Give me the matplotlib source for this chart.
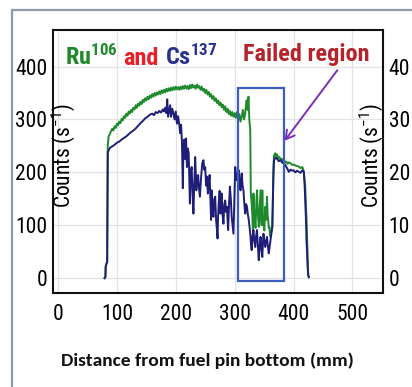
import matplotlib
matplotlib.use("Agg")
import matplotlib.pyplot as plt
from matplotlib.patches import Rectangle, FancyArrowPatch
from matplotlib import font_manager as fm

# ---------------- data ----------------
ru_x = [79, 80.5, 81, 82.5, 83.5, 84.5, 86, 88, 90, 92, 94, 96, 98, 100, 102, 104, 106, 108, 110,
        112, 114, 116, 118, 120, 122, 124, 126, 128, 130, 132, 134, 136, 138, 140, 142, 144, 146,
        148, 150, 152, 154, 156, 158, 160, 162, 164, 166, 168, 170, 172, 174, 176, 178, 180, 182,
        184, 186, 188, 190, 192, 194, 196, 198, 200, 202, 204, 206, 208, 210, 212, 214, 216, 218,
        220, 222, 224, 226, 228, 230, 232, 234, 236, 238, 240, 242, 244, 246, 248, 250, 252, 254,
        256, 258, 260, 262, 264, 266, 268, 270, 272, 274, 276, 278, 280, 282, 284, 286, 288, 290,
        292, 294, 296, 298, 300, 302, 304, 306, 308, 310, 312, 314, 316, 318, 320, 322, 323.5, 325,
        326.5, 327.5, 329, 330, 331, 332, 333, 334, 335.5, 337, 338, 339.5, 341, 342.5, 344, 345,
        346, 347, 348, 349, 350.5, 352, 353.5, 355, 356, 357, 358, 359, 360, 361, 362.5, 364, 365,
        366, 367, 369, 371, 372, 374, 376, 378, 380, 382, 384, 386, 388, 390, 392, 395, 398, 400,
        403, 406, 409, 412, 415, 417, 418.5, 420, 421, 422, 423, 424, 425, 426]
ru_y = [0, 2, 22, 28, 30, 250, 268, 272, 278, 282, 279, 287, 284, 292, 289, 296, 293, 301, 298,
        306, 303, 311, 307, 315, 311, 318, 314, 322, 319, 327, 322, 330, 326, 333, 329, 337, 333,
        340, 336, 343, 338, 345, 341, 348, 343, 350, 345, 351, 347, 353, 348, 355, 350, 356, 351,
        358, 353, 359, 354, 360, 355, 361, 356, 362, 357, 361, 356, 362, 357, 363, 358, 364, 358,
        363, 357, 365, 359, 366, 360, 364, 358, 366, 360, 363, 356, 362, 354, 358, 350, 356, 347,
        352, 343, 348, 339, 344, 335, 340, 331, 336, 327, 332, 323, 328, 318, 325, 314, 320, 310,
        316, 307, 314, 305, 312, 303, 314, 299, 310, 296, 305, 318, 300, 312, 336, 318, 343, 299,
        280, 160, 141, 120, 91, 160, 130, 110, 95, 147, 166, 120, 97, 130, 166, 110,
        100, 166, 120, 103, 90, 135, 110, 154, 120, 110, 95, 97, 85, 78, 90, 97, 160,
        215, 232, 236, 228, 234, 227, 229, 224, 226, 221, 223, 219, 220, 216, 219, 217, 214, 215,
        213, 212, 211, 208, 210, 204, 190, 172, 140, 115, 78, 40, 6, 2]

cs_x = [79, 80.5, 81, 82.5, 83.5, 84.5, 88, 92, 96, 100, 104, 108, 112, 116, 120, 124, 128, 132,
        136, 140, 144, 148, 152, 156, 160, 163, 166, 169, 172, 175, 178, 180, 182, 184, 185.5, 187,
        189, 190.5, 192, 194, 196, 198, 200, 202, 204, 206, 207.5, 209, 210.5, 212, 213, 214.5,
        216, 217.5, 219, 220.5, 222, 223, 224, 225.5, 227, 228.5, 230, 231.5, 233, 234, 235,
        236.5, 238, 239.5, 241, 243, 245, 247, 248.5, 250, 251.5, 253, 254.5, 256, 257.5, 259,
        260, 261, 262.5, 264, 265.5, 267, 268.5, 270, 271, 272, 273, 274.5, 276, 277, 278, 279.5,
        281, 282.5, 284, 285.5, 287, 288, 289, 290.5, 292, 293.5, 295, 296.5, 298, 299.5, 301,
        302.5, 304, 305.5, 307, 308.5, 310, 311, 312, 313.5, 315, 316.5, 318, 319.5, 321, 322.5,
        324, 325.5, 327, 328, 329, 330.5, 332, 333.5, 335, 336.5, 338, 339.5, 341, 342.5, 344,
        345.5, 347, 348, 349, 350.5, 352, 353.5, 355, 356.5, 358, 359.5, 361, 362.5, 364, 365,
        366, 367, 369, 372, 375, 378, 381, 384, 386, 389, 392, 395, 398, 400, 403, 406, 409, 412,
        415, 417.5, 419, 420.5, 421.5, 422, 423, 424, 425, 426]
cs_y = [0, 2, 22, 28, 30, 238, 246, 249, 252, 256, 258, 262, 265, 268, 272, 276, 279, 283,
        288, 293, 297, 302, 305, 309, 311, 308, 314, 312, 316, 313, 319, 315, 322, 312, 338, 305,
        318, 327, 305, 320, 312, 300, 315, 292, 306, 290, 274, 290, 258, 170, 240, 262,
        225, 264, 210, 245, 236, 185, 141, 200, 210, 160, 122, 180, 229, 200, 166,
        190, 195, 170, 154, 190, 217, 223, 205, 210, 175, 192, 160, 179, 195, 141,
        110, 166, 130, 116, 150, 154, 110, 91, 75, 120, 141, 165, 122, 135, 160, 120,
        103, 140, 147, 125, 135, 110, 91, 140, 173, 150, 116, 100, 84, 150, 210,
        190, 185, 200, 204, 180, 166, 185, 198, 175, 166, 140, 122, 140, 135, 120,
        110, 95, 78, 60, 53, 80, 91, 70, 59, 80, 91, 60, 34, 60, 78,
        55, 40, 65, 84, 70, 59, 70, 78, 60, 47, 60, 72, 85, 97, 150,
        198, 223, 227, 226, 221, 223, 218, 217, 214, 208, 201, 205, 203, 204, 200, 203, 201, 199,
        204, 201, 173, 130, 100, 72, 50, 20, 5, 2]

x_ticks = [0, 100, 200, 300, 400, 500]
y_ticks = [0, 100, 200, 300, 400]
y2_ticks = [0, 10, 20, 30, 40]

# ---------------- fonts ----------------
names = {f.name for f in fm.fontManager.ttflist}


def pick(*cands):
    out = [c for c in cands if c in names]
    return out + ['DejaVu Sans']


cond = pick('Roboto Condensed', 'PT Sans Narrow', 'Liberation Sans')
condb = pick('Roboto Condensed', 'PT Sans Narrow', 'Liberation Sans')
calib = pick('Carlito', 'Lato')
plt.rcParams['mathtext.default'] = 'regular'

W, H = 412, 387
fig = plt.figure(figsize=(W / 100, H / 100), dpi=100)
fig.patch.set_facecolor('white')


def fx(px):
    return px / W


def fy(py):
    return 1 - py / H


# outer frame
fig.patches.append(Rectangle((fx(12), fy(420)), 1.2, fy(10) - fy(420),
                             transform=fig.transFigure, fill=False,
                             edgecolor='#8E9BAA', linewidth=1.6))

ax = fig.add_axes([fx(53), fy(293), fx(383) - fx(53), fy(30) - fy(293)])
ax.set_xlim(-8.5, 552)
ax.set_ylim(-28, 469)

for v in x_ticks:
    ax.axvline(v, color='#E3E3E3', lw=0.9, zorder=0)
for v in y_ticks:
    ax.axhline(v, color='#E3E3E3', lw=0.9, zorder=0)

ax.plot(ru_x, ru_y, color='#1F8A2C', lw=1.4, zorder=3)
ax.plot(cs_x, cs_y, color='#1E1E78', lw=1.4, zorder=4)

ax.add_patch(Rectangle((305.6, -5), 383.2 - 305.6, 359 + 5, fill=False,
                       edgecolor='#3F5CC0', lw=1.6, zorder=5))

ax.set_xticks(x_ticks)
ax.set_yticks(y_ticks)
ax.tick_params(length=0, labelsize=15.5, pad=4)
ax.tick_params(axis='x', pad=8)
for lab in ax.get_xticklabels() + ax.get_yticklabels():
    lab.set_family(cond)
for s in ax.spines.values():
    s.set_linewidth(1.5)
    s.set_color('#111111')

ax2 = ax.twinx()
ax2.set_ylim(-2.8, 46.9)
ax2.set_yticks(y2_ticks)
ax2.tick_params(length=0, labelsize=15.5, pad=4)
for lab in ax2.get_yticklabels():
    lab.set_family(cond)
for s in ax2.spines.values():
    s.set_visible(False)

# y labels inside box
fig.text(fx(63), fy(156), 'Counts (s$^{-1}$)', rotation=90, ha='center', va='center',
         fontsize=15.5, family=cond)
fig.text(fx(371), fy(156), 'Counts (s$^{-1}$)', rotation=90, ha='center', va='center',
         fontsize=15.5, family=cond)

# title pieces
fig.text(fx(65), fy(65), 'Ru$^{106}$', color='#1F8A2C', fontsize=17.5, family=condb,
         fontweight='bold', ha='left', va='baseline')
fig.text(fx(123), fy(65), 'and', color='#E8202A', fontsize=17.5, family=condb,
         fontweight='bold', ha='left', va='baseline')
fig.text(fx(165), fy(65), 'Cs$^{137}$', color='#2B2F8F', fontsize=17.5, family=condb,
         fontweight='bold', ha='left', va='baseline')
fig.text(fx(243), fy(61), 'Failed region', color='#B5232B', fontsize=17.5, family=condb,
         fontweight='bold', ha='left', va='baseline')

# arrow
fig.patches.append(FancyArrowPatch((fx(339), fy(68)), (fx(283), fy(143)),
                                   transform=fig.transFigure,
                                   arrowstyle='->,head_length=6,head_width=3.5',
                                   color='#7A2FB8', lw=1.4))

fig.text(fx(207), fy(361), 'Distance from fuel pin bottom (mm)', ha='center', va='center',
         fontsize=14, family=calib, fontweight='bold', color='#111111')

fig.savefig('out.png', dpi=100)
